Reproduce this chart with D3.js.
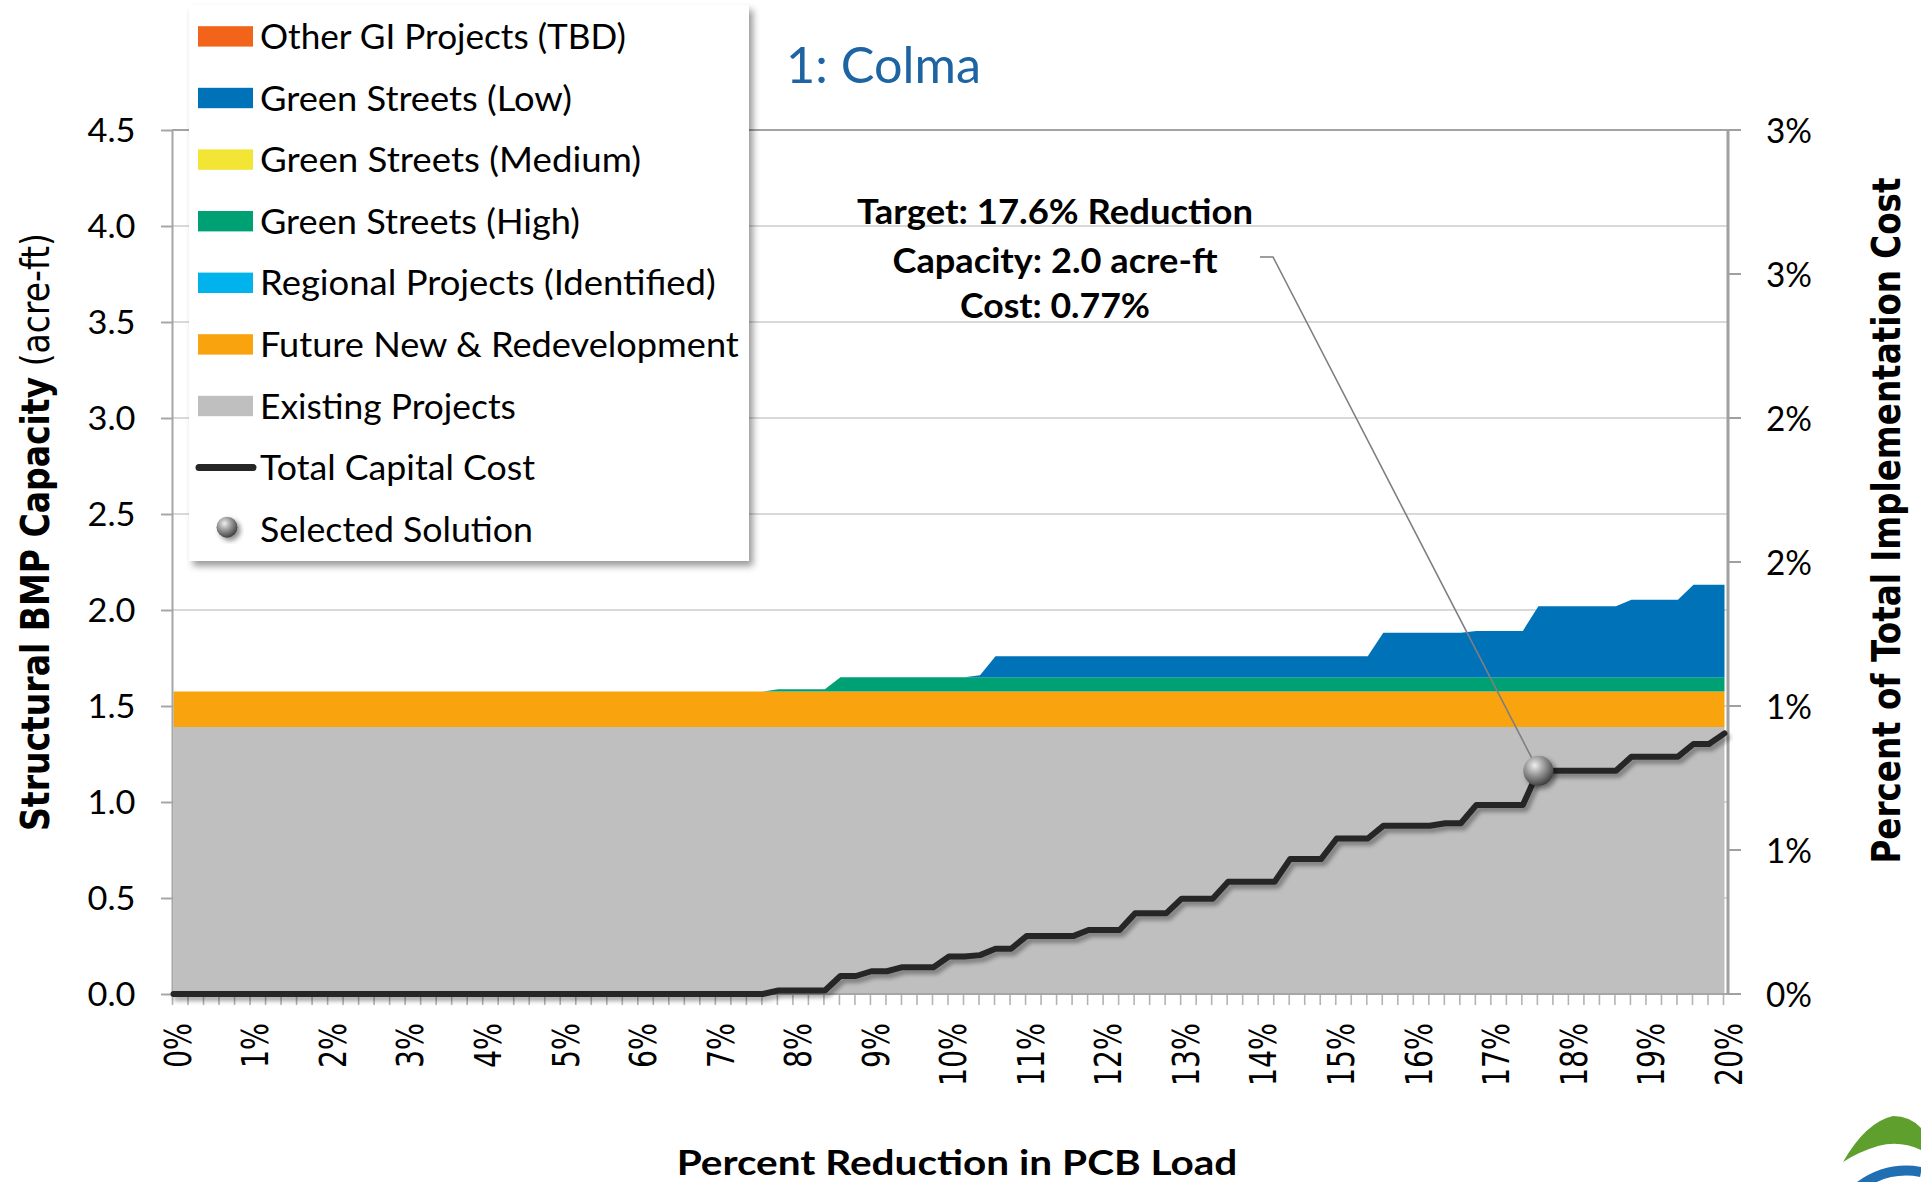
<!DOCTYPE html>
<html><head><meta charset="utf-8">
<script src="https://cdn.jsdelivr.net/npm/d3@7"></script>
<style>
html,body{margin:0;padding:0;background:#fff;}
svg{display:block;}
</style></head>
<body>
<svg id="chart" width="1921" height="1182"></svg>
<script>
// ---------------- DATA ----------------
const categories = [
  0,0.2,0.4,0.6,0.8,1,1.2,1.4,1.6,1.8,
  2,2.2,2.4,2.6,2.8,3,3.2,3.4,3.6,3.8,
  4,4.2,4.4,4.6,4.8,5,5.2,5.4,5.6,5.8,
  6,6.2,6.4,6.6,6.8,7,7.2,7.4,7.6,7.8,
  8,8.2,8.4,8.6,8.8,9,9.2,9.4,9.6,9.8,
  10,10.2,10.4,10.6,10.8,11,11.2,11.4,11.6,11.8,
  12,12.2,12.4,12.6,12.8,13,13.2,13.4,13.6,13.8,
  14,14.2,14.4,14.6,14.8,15,15.2,15.4,15.6,15.8,
  16,16.2,16.4,16.6,16.8,17,17.2,17.4,17.6,17.8,
  18,18.2,18.4,18.6,18.8,19,19.2,19.4,19.6,19.8,
  20];

// acre-ft, stacked bottom to top
const existing = [
  1.39,1.39,1.39,1.39,1.39,1.39,1.39,1.39,1.39,1.39,
  1.39,1.39,1.39,1.39,1.39,1.39,1.39,1.39,1.39,1.39,
  1.39,1.39,1.39,1.39,1.39,1.39,1.39,1.39,1.39,1.39,
  1.39,1.39,1.39,1.39,1.39,1.39,1.39,1.39,1.39,1.39,
  1.39,1.39,1.39,1.39,1.39,1.39,1.39,1.39,1.39,1.39,
  1.39,1.39,1.39,1.39,1.39,1.39,1.39,1.39,1.39,1.39,
  1.39,1.39,1.39,1.39,1.39,1.39,1.39,1.39,1.39,1.39,
  1.39,1.39,1.39,1.39,1.39,1.39,1.39,1.39,1.39,1.39,
  1.39,1.39,1.39,1.39,1.39,1.39,1.39,1.39,1.39,1.39,
  1.39,1.39,1.39,1.39,1.39,1.39,1.39,1.39,1.39,1.39,
  1.39];
const future = [
  0.185,0.185,0.185,0.185,0.185,0.185,0.185,0.185,0.185,0.185,
  0.185,0.185,0.185,0.185,0.185,0.185,0.185,0.185,0.185,0.185,
  0.185,0.185,0.185,0.185,0.185,0.185,0.185,0.185,0.185,0.185,
  0.185,0.185,0.185,0.185,0.185,0.185,0.185,0.185,0.185,0.185,
  0.185,0.185,0.185,0.185,0.185,0.185,0.185,0.185,0.185,0.185,
  0.185,0.185,0.185,0.185,0.185,0.185,0.185,0.185,0.185,0.185,
  0.185,0.185,0.185,0.185,0.185,0.185,0.185,0.185,0.185,0.185,
  0.185,0.185,0.185,0.185,0.185,0.185,0.185,0.185,0.185,0.185,
  0.185,0.185,0.185,0.185,0.185,0.185,0.185,0.185,0.185,0.185,
  0.185,0.185,0.185,0.185,0.185,0.185,0.185,0.185,0.185,0.185,
  0.185];
const regional = [
  0,0,0,0,0,0,0,0,0,0, 0,0,0,0,0,0,0,0,0,0,
  0,0,0,0,0,0,0,0,0,0, 0,0,0,0,0,0,0,0,0,0,
  0,0,0,0,0,0,0,0,0,0, 0,0,0,0,0,0,0,0,0,0,
  0,0,0,0,0,0,0,0,0,0, 0,0,0,0,0,0,0,0,0,0,
  0,0,0,0,0,0,0,0,0,0, 0,0,0,0,0,0,0,0,0,0,
  0];
const greenHigh = [
  0,0,0,0,0,0,0,0,0,0,
  0,0,0,0,0,0,0,0,0,0,
  0,0,0,0,0,0,0,0,0,0,
  0,0,0,0,0,0,0,0,0,0.012,
  0.012,0.012,0.012,0.075,0.075,0.075,0.075,0.075,0.075,0.075,
  0.075,0.075,0.075,0.075,0.075,0.075,0.075,0.075,0.075,0.075,
  0.075,0.075,0.075,0.075,0.075,0.075,0.075,0.075,0.075,0.075,
  0.075,0.075,0.075,0.075,0.075,0.075,0.075,0.075,0.075,0.075,
  0.075,0.075,0.075,0.075,0.075,0.075,0.075,0.075,0.075,0.075,
  0.075,0.075,0.075,0.075,0.075,0.075,0.075,0.075,0.075,0.075,
  0.075];
const greenMedium = [
  0,0,0,0,0,0,0,0,0,0, 0,0,0,0,0,0,0,0,0,0,
  0,0,0,0,0,0,0,0,0,0, 0,0,0,0,0,0,0,0,0,0,
  0,0,0,0,0,0,0,0,0,0, 0,0,0,0,0,0,0,0,0,0,
  0,0,0,0,0,0,0,0,0,0, 0,0,0,0,0,0,0,0,0,0,
  0,0,0,0,0,0,0,0,0,0, 0,0,0,0,0,0,0,0,0,0,
  0];
const greenLow = [
  0,0,0,0,0,0,0,0,0,0,
  0,0,0,0,0,0,0,0,0,0,
  0,0,0,0,0,0,0,0,0,0,
  0,0,0,0,0,0,0,0,0,0,
  0,0,0,0,0,0,0,0,0,0,
  0,0,0.01,0.109,0.109,0.109,0.109,0.109,0.109,0.109,
  0.109,0.109,0.109,0.109,0.109,0.109,0.109,0.109,0.109,0.109,
  0.109,0.109,0.109,0.109,0.109,0.109,0.109,0.109,0.231,0.231,
  0.231,0.231,0.231,0.231,0.241,0.241,0.241,0.241,0.37,0.37,
  0.37,0.37,0.37,0.37,0.403,0.403,0.403,0.403,0.481,0.481,
  0.481];
const otherGI = [
  0,0,0,0,0,0,0,0,0,0, 0,0,0,0,0,0,0,0,0,0,
  0,0,0,0,0,0,0,0,0,0, 0,0,0,0,0,0,0,0,0,0,
  0,0,0,0,0,0,0,0,0,0, 0,0,0,0,0,0,0,0,0,0,
  0,0,0,0,0,0,0,0,0,0, 0,0,0,0,0,0,0,0,0,0,
  0,0,0,0,0,0,0,0,0,0, 0,0,0,0,0,0,0,0,0,0,
  0];
// Total capital cost, percent of total implementation cost (right axis)
const totalCost = [
  0,0,0,0,0,0,0,0,0,0,
  0,0,0,0,0,0,0,0,0,0,
  0,0,0,0,0,0,0,0,0,0,
  0,0,0,0,0,0,0,0,0,0.012,
  0.012,0.012,0.012,0.0625,0.0625,0.079,0.079,0.093,0.093,0.093,
  0.13,0.13,0.135,0.157,0.157,0.201,0.201,0.201,0.201,0.222,
  0.222,0.222,0.28,0.28,0.28,0.331,0.331,0.331,0.39,0.39,
  0.39,0.39,0.469,0.469,0.469,0.54,0.54,0.54,0.584,0.584,
  0.584,0.584,0.593,0.593,0.656,0.656,0.656,0.656,0.775,0.775,
  0.775,0.775,0.775,0.775,0.824,0.824,0.824,0.824,0.868,0.868,
  0.905];

const seriesKeys  = ["existing","future","regional","greenHigh","greenMedium","greenLow","otherGI"];
const seriesNames = ["Existing Projects","Future New & Redevelopment","Regional Projects (Identified)",
                     "Green Streets (High)","Green Streets (Medium)","Green Streets (Low)","Other GI Projects (TBD)"];
const seriesData  = {existing, future, regional, greenHigh, greenMedium, greenLow, otherGI};
const lineName = "Total Capital Cost";
const markerName = "Selected Solution";

const yTicksLeft  = [0,0.5,1,1.5,2,2.5,3,3.5,4,4.5];
const yTicksRight = [0,0.5,1,1.5,2,2.5,3];
const yLabelsRight = ["0%","1%","1%","2%","2%","3%","3%"];
const xLabelCats = [0,1,2,3,4,5,6,7,8,9,10,11,12,13,14,15,16,17,18,19,20];
const xLabels = ["0%","1%","2%","3%","4%","5%","6%","7%","8%","9%","10%","11%","12%","13%","14%","15%","16%","17%","18%","19%","20%"];

const selectedCat = 17.6;
const titleText = "1: Colma";
const annotationLines = ["Target: 17.6% Reduction","Capacity: 2.0 acre-ft","Cost: 0.77%"];
const xTitle = "Percent Reduction in PCB Load";
const yTitleBold = "Structural BMP Capacity";
const yTitleReg = "(acre-ft)";
const y2Title = "Percent of Total Implementation Cost";

// ---------------- STYLE / LAYOUT ----------------
const colors = {
  existing:"#BFBFBF", future:"#F9A30F", regional:"#00B3EC", greenHigh:"#00A075",
  greenMedium:"#F3E534", greenLow:"#0072B8", otherGI:"#F26419", line:"#262626"
};
const CAL = "Lato, 'Open Sans', 'Noto Sans', sans-serif";
const VER = "'DejaVu Sans', Verdana, sans-serif";
const plot = {left:172, right:1728, top:130, bottom:994};

const svg = d3.select("#chart");
const defs = svg.append("defs");
function shadowFilter(id, dx, dy, sd, op){
  const f = defs.append("filter").attr("id",id).attr("x","-30%").attr("y","-30%").attr("width","160%").attr("height","160%");
  f.append("feDropShadow").attr("dx",dx).attr("dy",dy).attr("stdDeviation",sd)
   .attr("flood-color","#000").attr("flood-opacity",op);
}
shadowFilter("lineShadow",3,4,2.2,0.35);
shadowFilter("boxShadow",4,5,3.5,0.4);
shadowFilter("dotShadow",3,3,2.5,0.45);
const rg = defs.append("radialGradient").attr("id","sphere").attr("cx","38%").attr("cy","32%").attr("r","70%");
rg.append("stop").attr("offset","0%").attr("stop-color","#eeeeee");
rg.append("stop").attr("offset","45%").attr("stop-color","#9c9c9c");
rg.append("stop").attr("offset","100%").attr("stop-color","#3e3e3e");

// helper: place text with transform and optional length fit
function place(sel, o){
  const node = sel.node();
  const L = node.getComputedTextLength();
  const sx = o.len ? o.len / L : 1;
  sel.attr("transform", `translate(${o.x},${o.y}) rotate(${o.rot||0}) scale(${sx},${o.perp||1})`);
  return sel;
}

// ---------------- SCALES ----------------
const x = d3.scalePoint().domain(categories).range([173.5, 1724.5]);
const yL = d3.scaleLinear().domain([0,4.5]).range([plot.bottom, plot.top]);
const yR = d3.scaleLinear().domain([0,3]).range([plot.bottom, plot.top]);

// gridlines
svg.append("g").selectAll("line").data(yTicksLeft.filter(v=>v>0)).join("line")
  .attr("x1",plot.left).attr("x2",plot.right)
  .attr("y1",d=>yL(d)).attr("y2",d=>yL(d))
  .attr("stroke",d=>d===4.5?"#a3a3a3":"#d9d9d9").attr("stroke-width",2);

// stacked areas
const rows = categories.map((c,i)=>{
  const r = {cat:c};
  seriesKeys.forEach(k=>r[k]=seriesData[k][i]);
  return r;
});
const stacked = d3.stack().keys(seriesKeys)(rows);
const area = d3.area().x(d=>x(d.data.cat)).y0(d=>yL(d[0])).y1(d=>yL(d[1]));
svg.append("g").selectAll("path").data(stacked).join("path")
  .attr("d",area).attr("fill",d=>colors[d.key]);

// bottom axis
const gx = svg.append("g");
gx.selectAll("line.t").data(categories).join("line").attr("class","t")
  .attr("x1",d=>x(d)-1).attr("x2",d=>x(d)-1).attr("y1",plot.bottom).attr("y2",plot.bottom+11)
  .attr("stroke","#b3b3b3").attr("stroke-width",1.6);
gx.append("line").attr("x1",plot.left).attr("x2",plot.right).attr("y1",plot.bottom).attr("y2",plot.bottom)
  .attr("stroke","#a6a6a6").attr("stroke-width",2);
xLabelCats.forEach((c,i)=>{
  const t = gx.append("text").text(xLabels[i]).attr("font-family",VER).attr("font-size",28.4)
    .attr("text-anchor","end").attr("dominant-baseline","central").attr("fill","#000");
  place(t,{x:x(c)+5, y:1023, rot:-90, perp:1.29});
});

// left axis
const gyl = svg.append("g").attr("transform",`translate(${plot.left},0)`)
  .call(d3.axisLeft(yL).tickValues(yTicksLeft).tickSize(11).tickSizeOuter(0).tickPadding(25.5).tickFormat(d3.format(".1f")));
gyl.select(".domain").attr("stroke","#a6a6a6").attr("stroke-width",2);
gyl.selectAll(".tick line").attr("stroke","#a6a6a6").attr("stroke-width",2);
gyl.selectAll(".tick text").attr("font-family",CAL).attr("font-size",32.5).attr("fill","#000")
  .attr("dy","0.36em").attr("textLength",48).attr("lengthAdjust","spacingAndGlyphs");

// right axis
const gyr = svg.append("g");
gyr.append("line").attr("x1",plot.right).attr("x2",plot.right).attr("y1",plot.top).attr("y2",plot.bottom)
  .attr("stroke","#a0a0a0").attr("stroke-width",3);
gyr.selectAll("line.t").data(yTicksRight).join("line").attr("class","t")
  .attr("x1",plot.right).attr("x2",plot.right+13).attr("y1",d=>yR(d)).attr("y2",d=>yR(d))
  .attr("stroke","#a0a0a0").attr("stroke-width",2);
gyr.selectAll("text").data(yTicksRight).join("text")
  .text((d,i)=>yLabelsRight[i]).attr("x",1766).attr("y",d=>yR(d)).attr("dy","0.36em")
  .attr("font-family",CAL).attr("font-size",35).attr("fill","#000")
  .attr("textLength",46).attr("lengthAdjust","spacingAndGlyphs");

// selected solution: drop line
const selIdx = categories.indexOf(selectedCat);
const selX = x(selectedCat), selY = yR(totalCost[selIdx]);
svg.append("line").attr("x1",selX).attr("x2",selX).attr("y1",selY).attr("y2",plot.bottom)
  .attr("stroke","#7a7a7a").attr("stroke-width",2).attr("filter","url(#lineShadow)");

// cost line
const line = d3.line().x((d,i)=>x(categories[i])).y(d=>yR(d));
svg.append("path").datum(totalCost).attr("d",line).attr("fill","none")
  .attr("stroke",colors.line).attr("stroke-width",6).attr("stroke-linejoin","round").attr("stroke-linecap","round")
  .attr("filter","url(#lineShadow)");

// leader line
svg.append("path").attr("d",`M1260,257 L1273,257 L${selX},${selY}`).attr("fill","none")
  .attr("stroke","#7f7f7f").attr("stroke-width",1.6);

// marker
svg.append("circle").attr("cx",selX).attr("cy",selY).attr("r",15)
  .attr("fill","url(#sphere)").attr("filter","url(#dotShadow)");

// legend
const lg = svg.append("g");
lg.append("rect").attr("x",189).attr("y",5).attr("width",560).attr("height",556)
  .attr("fill","#fff").attr("filter","url(#boxShadow)");
const legendItems = [
  {key:"otherGI",len:366},{key:"greenLow",len:312},{key:"greenMedium",len:381},{key:"greenHigh",len:320},
  {key:"regional",len:456},{key:"future",len:479},{key:"existing",len:256},{key:"line",len:275},{key:"marker",len:273}
];
legendItems.forEach((it,k)=>{
  const cy = 36.4 + 61.6*k;
  let label;
  if(it.key==="line"){
    lg.append("line").attr("x1",199).attr("x2",253).attr("y1",cy).attr("y2",cy)
      .attr("stroke",colors.line).attr("stroke-width",7).attr("stroke-linecap","round");
    label = lineName;
  } else if(it.key==="marker"){
    lg.append("circle").attr("cx",227).attr("cy",cy-2).attr("r",10.5)
      .attr("fill","url(#sphere)").attr("filter","url(#dotShadow)");
    label = markerName;
  } else {
    lg.append("rect").attr("x",198).attr("y",cy-10.2).attr("width",55).attr("height",20.4)
      .attr("fill",colors[it.key]);
    label = seriesNames[seriesKeys.indexOf(it.key)];
  }
  const t = lg.append("text").text(label).attr("font-family",CAL).attr("font-size",35).attr("fill","#000");
  place(t,{x:260, y:cy+12.5, len:it.len});
});

// title
place(svg.append("text").text(titleText).attr("font-family",CAL).attr("font-size",50).attr("fill","#1e64a3"),
  {x:786, y:82.7, len:195});

// annotation
const annY = [224, 272.7, 317.7], annLen = [396, 325, 190];
annotationLines.forEach((s,i)=>{
  const t = svg.append("text").text(s).attr("font-family",CAL).attr("font-weight",700)
    .attr("font-size",33.5).attr("text-anchor","middle").attr("fill","#000");
  place(t,{x:1055, y:annY[i], len:annLen[i]});
});

// axis titles
place(svg.append("text").text(xTitle).attr("font-family",CAL).attr("font-weight",700).attr("font-size",35)
  .attr("text-anchor","middle").attr("fill","#000"), {x:957, y:1175, len:561});

const ylt = svg.append("text").attr("font-family",VER).attr("font-size",33).attr("text-anchor","middle").attr("fill","#000");
ylt.append("tspan").attr("font-weight",700).text(yTitleBold);
ylt.append("tspan").attr("font-weight",400).text("\u00a0" + yTitleReg);
place(ylt,{x:49, y:532, rot:-90, len:598, perp:1.17});

place(svg.append("text").text(y2Title).attr("font-family",VER).attr("font-weight",700).attr("font-size",32.4)
  .attr("text-anchor","middle").attr("fill","#000"), {x:1900, y:520.5, rot:-90, len:686, perp:1.22});

// logo fragment (bottom-right corner)
const logo = svg.append("g");
logo.append("path").attr("d","M1843,1162 Q1866,1122 1893,1116 Q1910,1116 1921,1128 L1921,1150 Q1900,1140 1878,1146 Q1858,1152 1843,1162 Z")
  .attr("fill","#5e9f2e");
logo.append("path").attr("d","M1860,1186 Q1888,1166 1921,1172").attr("fill","none")
  .attr("stroke","#1f6fb2").attr("stroke-width",10);
</script>
</body></html>
